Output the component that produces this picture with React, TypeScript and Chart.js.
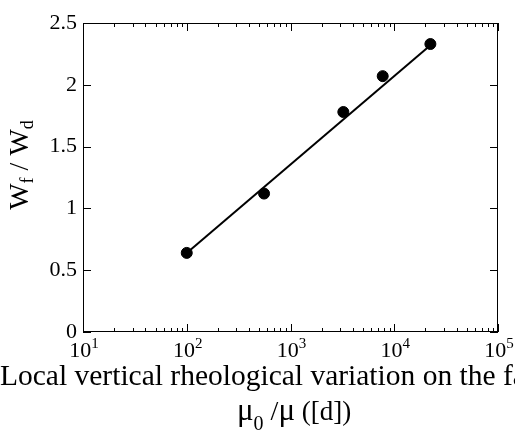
import React, { useEffect, useRef } from "react";
import { Chart, registerables } from "chart.js";

Chart.register(...registerables);

// Data
const xValues = [100, 556, 3230, 7740, 22300];
const yValues = [0.64, 1.12, 1.78, 2.07, 2.33];
const fitX = [100, 22300];
const fitY = [0.64, 2.32];
const xDecades = [10, 100, 1000, 10000, 100000];
const yTicks = [0, 0.5, 1, 1.5, 2, 2.5];
const titleLine1 = "Local vertical rheological variation on the fault";
const SERIF = "'Liberation Serif', 'Times New Roman', serif";

type Piece = { t: string; size: number; dy: number };

function drawPieces(ctx: CanvasRenderingContext2D, pieces: Piece[], x: number, y: number, align: "left" | "center") {
  let total = 0;
  for (const p of pieces) {
    ctx.font = `${p.size}px ${SERIF}`;
    total += ctx.measureText(p.t).width;
  }
  let cx = align === "center" ? x - total / 2 : x;
  ctx.textAlign = "left";
  ctx.textBaseline = "alphabetic";
  for (const p of pieces) {
    ctx.font = `${p.size}px ${SERIF}`;
    ctx.fillText(p.t, cx, y + p.dy);
    cx += ctx.measureText(p.t).width;
  }
}

const framePlugin = {
  id: "framePlugin",
  afterDraw(chart: any) {
    const ctx: CanvasRenderingContext2D = chart.ctx;
    const { left, right, top, bottom } = chart.chartArea;
    const xs = chart.scales.x;
    const ys = chart.scales.y;
    ctx.save();
    ctx.strokeStyle = "#000";
    ctx.lineWidth = 1;
    ctx.strokeRect(left + 0.5, top + 0.5, right - left - 1, bottom - top - 1);

    ctx.beginPath();
    for (let d = 0; d < xDecades.length; d++) {
      const base = xDecades[d];
      for (let m = 1; m <= 9; m++) {
        const v = base * m;
        if (v > xDecades[xDecades.length - 1]) break;
        const px = Math.round(xs.getPixelForValue(v)) + 0.5;
        const len = m === 1 ? 8 : 4;
        ctx.moveTo(px, bottom);
        ctx.lineTo(px, bottom - len);
        ctx.moveTo(px, top);
        ctx.lineTo(px, top + len);
      }
    }
    for (const v of yTicks) {
      const py = Math.round(ys.getPixelForValue(v)) + 0.5;
      ctx.moveTo(left, py);
      ctx.lineTo(left + 8, py);
      ctx.moveTo(right, py);
      ctx.lineTo(right - 8, py);
    }
    ctx.stroke();

    ctx.fillStyle = "#000";
    for (const v of xDecades) {
      const e = String(Math.round(Math.log10(v)));
      const px = xs.getPixelForValue(v);
      drawPieces(ctx, [
        { t: "10", size: 22, dy: 0 },
        { t: e, size: 15, dy: -9 },
      ], px + 1, bottom + 25, "center");
    }

    ctx.save();
    ctx.translate(28, 165);
    ctx.rotate(-Math.PI / 2);
    drawPieces(ctx, [
      { t: "W", size: 28, dy: 0 },
      { t: "f", size: 18, dy: 5 },
      { t: " / ", size: 28, dy: 0 },
      { t: "W", size: 28, dy: 0 },
      { t: "d", size: 18, dy: 5 },
    ], 0, 0, "center");
    ctx.restore();

    drawPieces(ctx, [{ t: titleLine1, size: 29.5, dy: 0 }], 0, 385, "left");
    drawPieces(ctx, [
      { t: "\u03BC", size: 31, dy: 0 },
      { t: "0", size: 20, dy: 10 },
      { t: " /", size: 28, dy: 0 },
      { t: "\u03BC", size: 31, dy: 0 },
      { t: " ([d])", size: 27, dy: 0 },
    ], 237, 420, "left");
    ctx.restore();
  },
};

export default function App() {
  const ref = useRef<HTMLCanvasElement | null>(null);
  useEffect(() => {
    if (!ref.current) return;
    const chart = new Chart(ref.current, {
      type: "scatter",
      data: {
        datasets: [
          {
            label: "fit",
            data: fitX.map((x, i) => ({ x, y: fitY[i] })),
            showLine: true,
            borderColor: "#000",
            borderWidth: 2,
            pointRadius: 0,
            order: 2,
          },
          {
            label: "data",
            data: xValues.map((x, i) => ({ x, y: yValues[i] })),
            showLine: false,
            backgroundColor: "#000",
            borderColor: "#000",
            pointRadius: 5.5,
            order: 1,
          },
        ],
      },
      options: {
        animation: false,
        responsive: false,
        layout: { padding: { top: 23, right: 17, left: 0, bottom: 0 } },
        plugins: { legend: { display: false }, tooltip: { enabled: false } },
        scales: {
          x: {
            type: "logarithmic",
            min: 10,
            max: 100000,
            grid: { display: false, drawTicks: false },
            border: { display: false },
            ticks: { display: false },
            afterFit: (s: any) => { s.height = 102; },
          },
          y: {
            type: "linear",
            min: 0,
            max: 2.5,
            grid: { display: false, drawTicks: false },
            border: { display: false },
            ticks: {
              stepSize: 0.5,
              padding: 6,
              color: "#000",
              font: { family: SERIF, size: 22 },
              callback: (v: any) => String(Number(v)),
            },
            afterFit: (s: any) => { s.width = 83; },
          },
        },
      },
      plugins: [framePlugin],
    });
    return () => chart.destroy();
  }, []);
  return (
    <div style={{ position: "fixed", left: 0, top: 0, width: 515, height: 434, background: "#fff" }}>
      <canvas ref={ref} width={515} height={434} style={{ display: "block" }} />
    </div>
  );
}
